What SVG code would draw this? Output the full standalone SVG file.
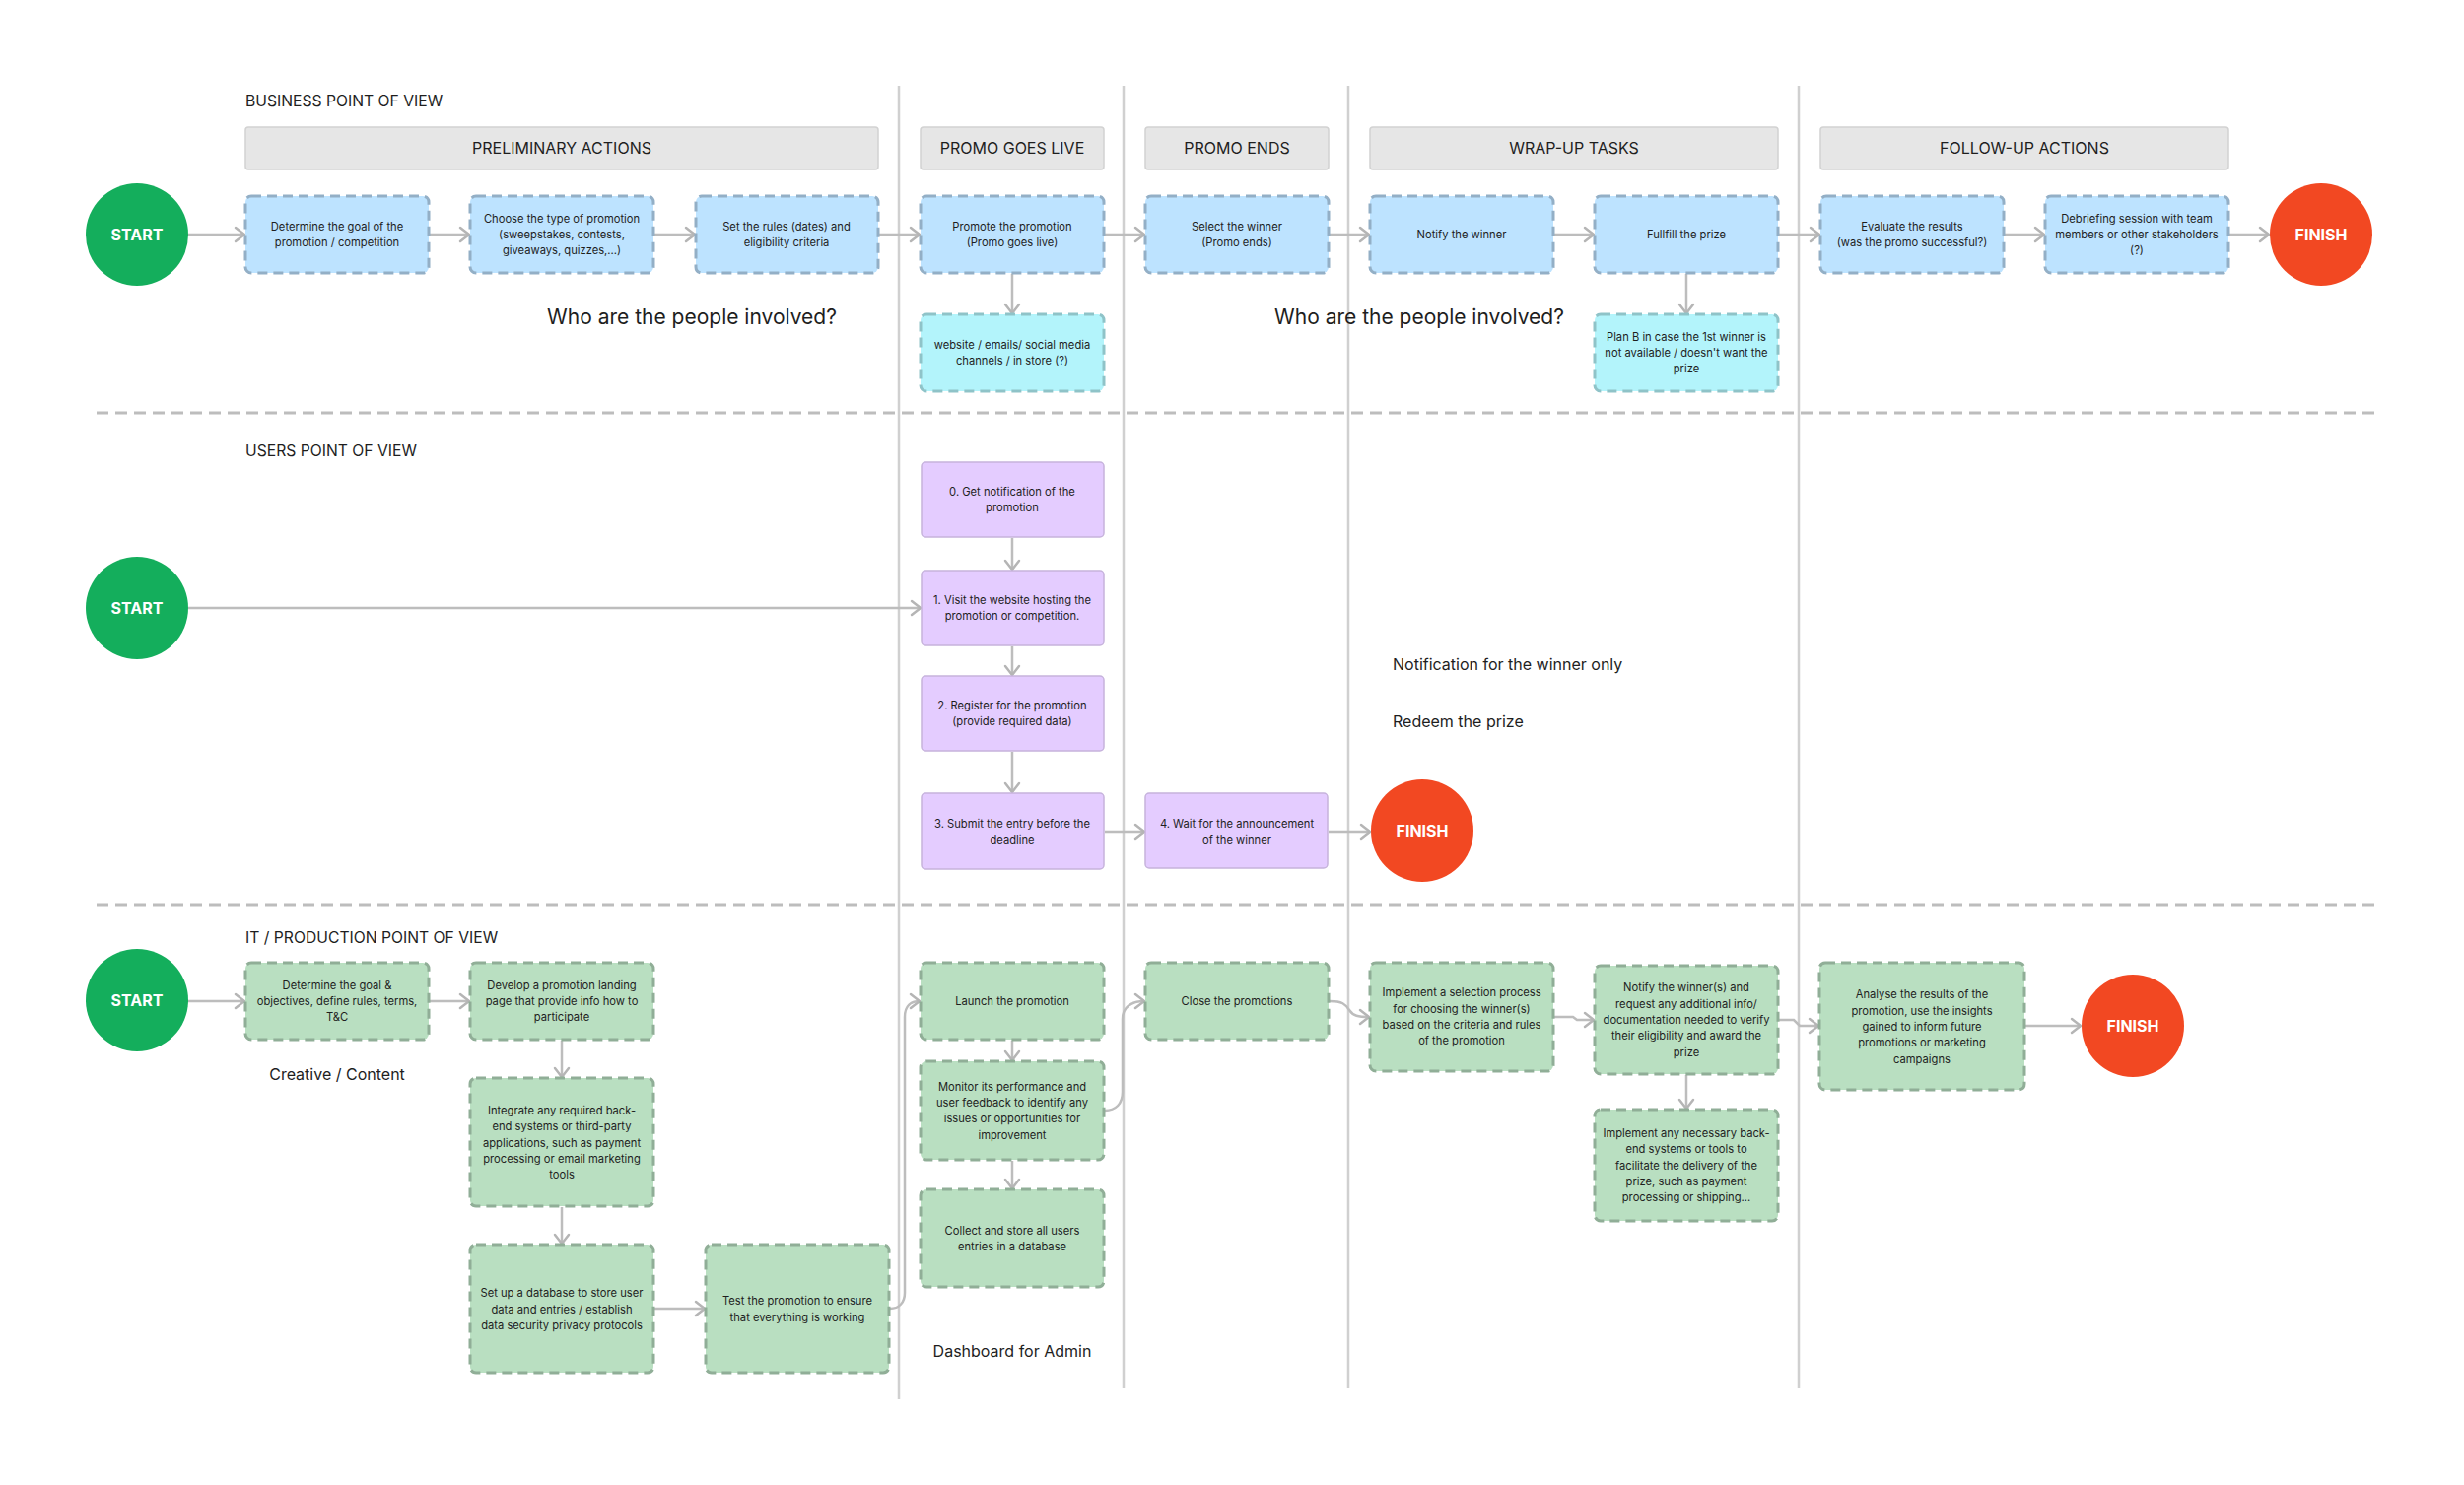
<svg xmlns="http://www.w3.org/2000/svg" width="2500" height="1507" viewBox="0 0 2500 1507">
<style>
text{font-family:Inter,"Liberation Sans",Arial,sans-serif;fill:#1E1E1E}
.t{font-size:11.2px;text-anchor:middle}
.sec{font-size:15.7px}
.hdr{font-size:16px;text-anchor:middle}
.big{font-size:21px}
.mid{font-size:16px}
.ct{font-size:16px;font-weight:700;fill:#FFFFFF;text-anchor:middle}
.hb{fill:#E6E6E6;stroke:#D2D2D2;stroke-width:1.5}
.bl{fill:#BDE3FF;stroke:#93AFC6;stroke-width:3;stroke-dasharray:10 6}
.cy{fill:#B3F4FB;stroke:#8FC3C8;stroke-width:3;stroke-dasharray:10 6}
.gr{fill:#B9DFC1;stroke:#90AE97;stroke-width:3;stroke-dasharray:10 6}
.pu{fill:#E4CCFF;stroke:#C6B3DC;stroke-width:1.5}
.st{fill:#14AE5C}
.fi{fill:#F24822}
.ph{stroke:#D0D0D0;stroke-width:2.5;fill:none}
.sep{stroke:#BDBDBD;stroke-width:3;stroke-dasharray:12 7;fill:none}
.c{stroke:#BDBDBD;stroke-width:2.5;fill:none;marker-end:url(#ah)}
</style>
<defs>
<marker id="ah" markerUnits="userSpaceOnUse" markerWidth="14" markerHeight="18" refX="11" refY="9" orient="auto">
<path d="M2,2 L11,9 L2,16" fill="none" stroke="#B5B5B5" stroke-width="2.5" stroke-linecap="round" stroke-linejoin="round"/>
</marker>
</defs>
<rect width="2500" height="1507" fill="#FFFFFF"/>

<g id="lanes">
<line class="ph" x1="912" y1="87" x2="912" y2="1420"/>
<line class="ph" x1="1140" y1="87" x2="1140" y2="1409"/>
<line class="ph" x1="1368" y1="87" x2="1368" y2="1409"/>
<line class="ph" x1="1825" y1="87" x2="1825" y2="1409"/>
<line class="sep" x1="98" y1="419" x2="2413" y2="419"/>
<line class="sep" x1="98" y1="918" x2="2413" y2="918"/>
</g>

<g id="labels">
<text class="sec" x="249" y="108">BUSINESS POINT OF VIEW</text>
<text class="sec" x="249" y="463">USERS POINT OF VIEW</text>
<text class="sec" x="249" y="957">IT / PRODUCTION POINT OF VIEW</text>
<text class="big" x="702" y="329" text-anchor="middle">Who are the people involved?</text>
<text class="big" x="1440" y="329" text-anchor="middle">Who are the people involved?</text>
<text class="mid" x="1413" y="680">Notification for the winner only</text>
<text class="mid" x="1413" y="738">Redeem the prize</text>
<text class="mid" x="342" y="1096" text-anchor="middle">Creative / Content</text>
<text class="mid" x="1027" y="1377" text-anchor="middle">Dashboard for Admin</text>
</g>

<g id="headers">
<g id="h-prelim"><rect class="hb" x="249" y="129" width="642" height="43" rx="3"/><text class="hdr" x="570" y="156">PRELIMINARY ACTIONS</text></g>
<g id="h-live"><rect class="hb" x="934" y="129" width="186" height="43" rx="3"/><text class="hdr" x="1027" y="156">PROMO GOES LIVE</text></g>
<g id="h-ends"><rect class="hb" x="1162" y="129" width="186" height="43" rx="3"/><text class="hdr" x="1255" y="156">PROMO ENDS</text></g>
<g id="h-wrap"><rect class="hb" x="1390" y="129" width="414" height="43" rx="3"/><text class="hdr" x="1597" y="156">WRAP-UP TASKS</text></g>
<g id="h-follow"><rect class="hb" x="1847" y="129" width="414" height="43" rx="3"/><text class="hdr" x="2054" y="156">FOLLOW-UP ACTIONS</text></g>
</g>

<g id="connectors">
<line class="c" x1="191" y1="238" x2="248" y2="238"/>
<line class="c" x1="436" y1="238" x2="476" y2="238"/>
<line class="c" x1="664" y1="238" x2="705" y2="238"/>
<line class="c" x1="892" y1="238" x2="933" y2="238"/>
<line class="c" x1="1121" y1="238" x2="1161" y2="238"/>
<line class="c" x1="1349" y1="238" x2="1389" y2="238"/>
<line class="c" x1="1577" y1="238" x2="1617" y2="238"/>
<line class="c" x1="1805" y1="238" x2="1846" y2="238"/>
<line class="c" x1="2034" y1="238" x2="2074" y2="238"/>
<line class="c" x1="2262" y1="238" x2="2302" y2="238"/>
<line class="c" x1="1027" y1="278" x2="1027" y2="318"/>
<line class="c" x1="1711" y1="278" x2="1711" y2="318"/>

<line class="c" x1="191" y1="617" x2="934" y2="617"/>
<line class="c" x1="1027" y1="546" x2="1027" y2="578"/>
<line class="c" x1="1027" y1="656" x2="1027" y2="685"/>
<line class="c" x1="1027" y1="763" x2="1027" y2="804"/>
<line class="c" x1="1121" y1="844" x2="1161" y2="844"/>
<line class="c" x1="1348" y1="844" x2="1390" y2="844"/>

<line class="c" x1="191" y1="1016" x2="248" y2="1016"/>
<line class="c" x1="436" y1="1016" x2="476" y2="1016"/>
<line class="c" x1="570" y1="1056" x2="570" y2="1093"/>
<line class="c" x1="570" y1="1225" x2="570" y2="1262"/>
<line class="c" x1="664" y1="1328" x2="715" y2="1328"/>
<path class="c" d="M903,1328 C912,1328 918,1322 918,1312 L918,1032 C918,1021 924,1016 933,1016"/>
<line class="c" x1="1027" y1="1056" x2="1027" y2="1076"/>
<line class="c" x1="1027" y1="1178" x2="1027" y2="1206"/>
<path class="c" d="M1121,1127 C1132,1127 1139,1120 1139,1108 L1139,1034 C1139,1022 1148,1016 1161,1016"/>
<path class="c" d="M1349,1016 C1362,1016 1365,1019 1369,1025 C1373,1031 1378,1032 1389,1032"/>
<path class="c" d="M1577,1032 L1596,1032 L1600,1035 L1617,1035"/>
<line class="c" x1="1711" y1="1091" x2="1711" y2="1125"/>
<path class="c" d="M1805,1035 L1820,1035 L1826,1041 L1845,1041"/>
<line class="c" x1="2055" y1="1041" x2="2111" y2="1041"/>
</g>

<g id="business">
<g id="b-start"><circle class="st" cx="139" cy="238" r="52"/><text class="ct" x="139" y="244">START</text></g>
<g id="b1"><rect class="bl" x="249" y="199" width="186" height="78" rx="6"/><text class="t" x="342" y="234">Determine the goal of the</text><text class="t" x="342" y="250">promotion / competition</text></g>
<g id="b2"><rect class="bl" x="477" y="199" width="186" height="78" rx="6"/><text class="t" x="570" y="226">Choose the type of promotion</text><text class="t" x="570" y="242">(sweepstakes, contests,</text><text class="t" x="570" y="258">giveaways, quizzes,...)</text></g>
<g id="b3"><rect class="bl" x="706" y="199" width="185" height="78" rx="6"/><text class="t" x="798" y="234">Set the rules (dates) and</text><text class="t" x="798" y="250">eligibility criteria</text></g>
<g id="b4"><rect class="bl" x="934" y="199" width="186" height="78" rx="6"/><text class="t" x="1027" y="234">Promote the promotion</text><text class="t" x="1027" y="250">(Promo goes live)</text></g>
<g id="b5"><rect class="bl" x="1162" y="199" width="186" height="78" rx="6"/><text class="t" x="1255" y="234">Select the winner</text><text class="t" x="1255" y="250">(Promo ends)</text></g>
<g id="b6"><rect class="bl" x="1390" y="199" width="186" height="78" rx="6"/><text class="t" x="1483" y="242">Notify the winner</text></g>
<g id="b7"><rect class="bl" x="1618" y="199" width="186" height="78" rx="6"/><text class="t" x="1711" y="242">Fullfill the prize</text></g>
<g id="b8"><rect class="bl" x="1847" y="199" width="186" height="78" rx="6"/><text class="t" x="1940" y="234">Evaluate the results</text><text class="t" x="1940" y="250">(was the promo successful?)</text></g>
<g id="b9"><rect class="bl" x="2075" y="199" width="186" height="78" rx="6"/><text class="t" x="2168" y="226">Debriefing session with team</text><text class="t" x="2168" y="242">members or other stakeholders</text><text class="t" x="2168" y="258">(?)</text></g>
<g id="b-finish"><circle class="fi" cx="2355" cy="238" r="52"/><text class="ct" x="2355" y="244">FINISH</text></g>
<g id="b-web"><rect class="cy" x="934" y="319" width="186" height="78" rx="6"/><text class="t" x="1027" y="354">website / emails/ social media</text><text class="t" x="1027" y="370">channels / in store (?)</text></g>
<g id="b-planb"><rect class="cy" x="1618" y="319" width="186" height="78" rx="6"/><text class="t" x="1711" y="346">Plan B in case the 1st winner is</text><text class="t" x="1711" y="362">not available / doesn't want the</text><text class="t" x="1711" y="378">prize</text></g>
</g>

<g id="users">
<g id="u-start"><circle class="st" cx="139" cy="617" r="52"/><text class="ct" x="139" y="623">START</text></g>
<g id="u0"><rect class="pu" x="935" y="469" width="185" height="76" rx="4"/><text class="t" x="1027" y="503">0. Get notification of the</text><text class="t" x="1027" y="519">promotion</text></g>
<g id="u1"><rect class="pu" x="935" y="579" width="185" height="76" rx="4"/><text class="t" x="1027" y="613">1. Visit the website hosting the</text><text class="t" x="1027" y="629">promotion or competition.</text></g>
<g id="u2"><rect class="pu" x="935" y="686" width="185" height="76" rx="4"/><text class="t" x="1027" y="720">2. Register for the promotion</text><text class="t" x="1027" y="736">(provide required data)</text></g>
<g id="u3"><rect class="pu" x="935" y="805" width="185" height="77" rx="4"/><text class="t" x="1027" y="840">3. Submit the entry before the</text><text class="t" x="1027" y="856">deadline</text></g>
<g id="u4"><rect class="pu" x="1162" y="805" width="185" height="76" rx="4"/><text class="t" x="1255" y="840">4. Wait for the announcement</text><text class="t" x="1255" y="856">of the winner</text></g>
<g id="u-finish"><circle class="fi" cx="1443" cy="843" r="52"/><text class="ct" x="1443" y="849">FINISH</text></g>
</g>

<g id="it">
<g id="i-start"><circle class="st" cx="139" cy="1015" r="52"/><text class="ct" x="139" y="1021">START</text></g>
<g id="i1"><rect class="gr" x="249" y="977" width="186" height="78" rx="6"/><text class="t" x="342" y="1004">Determine the goal &amp;</text><text class="t" x="342" y="1020">objectives, define rules, terms,</text><text class="t" x="342" y="1036">T&amp;C</text></g>
<g id="i2"><rect class="gr" x="477" y="977" width="186" height="78" rx="6"/><text class="t" x="570" y="1004">Develop a promotion landing</text><text class="t" x="570" y="1020">page that provide info  how to</text><text class="t" x="570" y="1036">participate</text></g>
<g id="i3"><rect class="gr" x="477" y="1094" width="186" height="130" rx="6"/><text class="t" x="570" y="1131">Integrate any required back-</text><text class="t" x="570" y="1147">end systems or third-party</text><text class="t" x="570" y="1164">applications, such as payment</text><text class="t" x="570" y="1180">processing or email marketing</text><text class="t" x="570" y="1196">tools</text></g>
<g id="i4"><rect class="gr" x="477" y="1263" width="186" height="130" rx="6"/><text class="t" x="570" y="1316">Set up a database to store user</text><text class="t" x="570" y="1333">data and entries / establish</text><text class="t" x="570" y="1349">data security privacy protocols</text></g>
<g id="i5"><rect class="gr" x="716" y="1263" width="186" height="130" rx="6"/><text class="t" x="809" y="1324">Test the promotion to ensure</text><text class="t" x="809" y="1341">that everything is working</text></g>
<g id="i6"><rect class="gr" x="934" y="977" width="186" height="78" rx="6"/><text class="t" x="1027" y="1020">Launch the promotion</text></g>
<g id="i7"><rect class="gr" x="934" y="1077" width="186" height="100" rx="6"/><text class="t" x="1027" y="1107">Monitor its performance and</text><text class="t" x="1027" y="1123">user feedback to identify any</text><text class="t" x="1027" y="1139">issues or opportunities for</text><text class="t" x="1027" y="1156">improvement</text></g>
<g id="i8"><rect class="gr" x="934" y="1207" width="186" height="99" rx="6"/><text class="t" x="1027" y="1253">Collect and store all users</text><text class="t" x="1027" y="1269">entries in a database</text></g>
<g id="i9"><rect class="gr" x="1162" y="977" width="186" height="78" rx="6"/><text class="t" x="1255" y="1020">Close the promotions</text></g>
<g id="i10"><rect class="gr" x="1390" y="977" width="186" height="110" rx="6"/><text class="t" x="1483" y="1011">Implement a selection process</text><text class="t" x="1483" y="1028">for choosing the winner(s)</text><text class="t" x="1483" y="1044">based on the criteria and rules</text><text class="t" x="1483" y="1060">of the promotion</text></g>
<g id="i11"><rect class="gr" x="1618" y="980" width="186" height="110" rx="6"/><text class="t" x="1711" y="1006">Notify the winner(s) and</text><text class="t" x="1711" y="1023">request any additional info/</text><text class="t" x="1711" y="1039">documentation needed to verify</text><text class="t" x="1711" y="1055">their eligibility and award the</text><text class="t" x="1711" y="1072">prize</text></g>
<g id="i12"><rect class="gr" x="1618" y="1126" width="186" height="113" rx="6"/><text class="t" x="1711" y="1154">Implement any necessary back-</text><text class="t" x="1711" y="1170">end systems or tools to</text><text class="t" x="1711" y="1187">facilitate the delivery of the</text><text class="t" x="1711" y="1203">prize, such as payment</text><text class="t" x="1711" y="1219">processing or shipping...</text></g>
<g id="i13"><rect class="gr" x="1846" y="977" width="208" height="129" rx="6"/><text class="t" x="1950" y="1013">Analyse the results of the</text><text class="t" x="1950" y="1030">promotion, use the insights</text><text class="t" x="1950" y="1046">gained to inform future</text><text class="t" x="1950" y="1062">promotions or marketing</text><text class="t" x="1950" y="1079">campaigns</text></g>
<g id="i-finish"><circle class="fi" cx="2164" cy="1041" r="52"/><text class="ct" x="2164" y="1047">FINISH</text></g>
</g>
</svg>
